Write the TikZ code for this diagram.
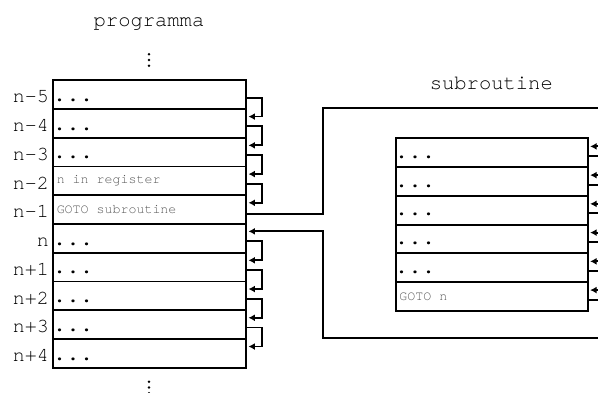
\documentclass[tikz,border=0pt]{standalone}
\usepackage{fontspec}
\setmonofont{TeX Gyre Cursor}
\usetikzlibrary{calc,arrows.meta}
\newcommand{\puntini}[1]{\foreach \p in {#1} \fill (\p) circle (1.4pt);}

\begin{document}
\begin{tikzpicture}[x=1pt,y=-1pt,
    riga/.style={draw,line width=1.9pt,minimum width=193pt,minimum height=28.74pt,inner sep=0pt},
    titolo/.style={font=\ttfamily\fontsize{20.5}{22}\selectfont,inner sep=0pt,anchor=base},
    etichetta/.style={font=\ttfamily\fontsize{20}{22}\selectfont,inner sep=0pt,anchor=base east},
    dots/.style={font=\ttfamily\fontsize{22.5}{24}\selectfont,inner sep=0pt,anchor=base west},
    istr/.style={font=\ttfamily\fontsize{13.3}{15}\selectfont,text=black!65,inner sep=0pt,anchor=west},
    freccia/.style={line width=1.8pt,-{Latex[length=6.5pt,width=7pt]}}]
  \useasboundingbox (0,0) rectangle (598,392);

  % titoli
  \node[titolo] (tprog) at (149,26.5) {programma};
  \node[titolo] (tsub)  at (491.3,89.3) {subroutine};

  % programma
  \foreach \lab [count=\i from 0] in {n-5,n-4,n-3,n-2,n-1,n,n+1,n+2,n+3,n+4} {
    \node[riga] (p\i) at (149.5,{94.67+28.74*\i}) {};
    \node[etichetta] (l\i) at ($(p\i.north west)+(-3,23.5)$) {\lab};
  }
  \foreach \i in {0,1,2,5,6,7,8,9}
    \node[dots] (d\i) at ($(p\i.north west)+(0.5,22)$) {...};
  \node[istr] (reg)  at ($(p3.west)+(4.5,0)$) {n in register};
  \node[istr] (gsub) at ($(p4.west)+(4.5,-0.5)$) {GOTO subroutine};

  \foreach \i/\j in {0/1,1/2,2/3,3/4,5/6,6/7,7/8,8/9}
    \draw[freccia] ($(p\i.north east)+(0,18.3)$) -- ++(15,0) |- ($(p\j.north east)+(1.5,8.5)$);

  % subroutine
  \foreach \k in {0,...,5}
    \node[riga,minimum width=192pt] (s\k) at (491.7,{152.7+28.74*\k}) {};
  \foreach \k in {0,...,4}
    \node[dots] (e\k) at ($(s\k.north west)+(0,21)$) {...};
  \node[istr] (gn) at ($(s5.west)+(4.5,0)$) {GOTO n};

  \foreach \k/\j in {0/1,1/2,2/3,3/4,4/5}
    \draw[freccia] ($(s\k.north east)+(0,18.5)$) -- ++(15,0) |- ($(s\j.north east)+(1.5,9)$);

  % salto e ritorno
  \coordinate (ctl) at (323,108.3);
  \coordinate (ctr) at (606,108.3);
  \coordinate (cbl) at (323,338.3);
  \coordinate (cbr) at (606,338.3);
  \draw[freccia] ($(p4.north east)+(0,19.3)$) -| (ctl) -- (ctr) |- ($(s0.north east)+(1.5,9)$);
  \draw[freccia] ($(s5.north east)+(0,18.7)$) -| (cbr) -- (cbl) |- ($(p5.north east)+(1.5,8.3)$);

  \puntini{{149,54.3},{149,60},{149,65.7},{149,381.7},{149,387.5},{149,393.3}}
\end{tikzpicture}
\end{document}
